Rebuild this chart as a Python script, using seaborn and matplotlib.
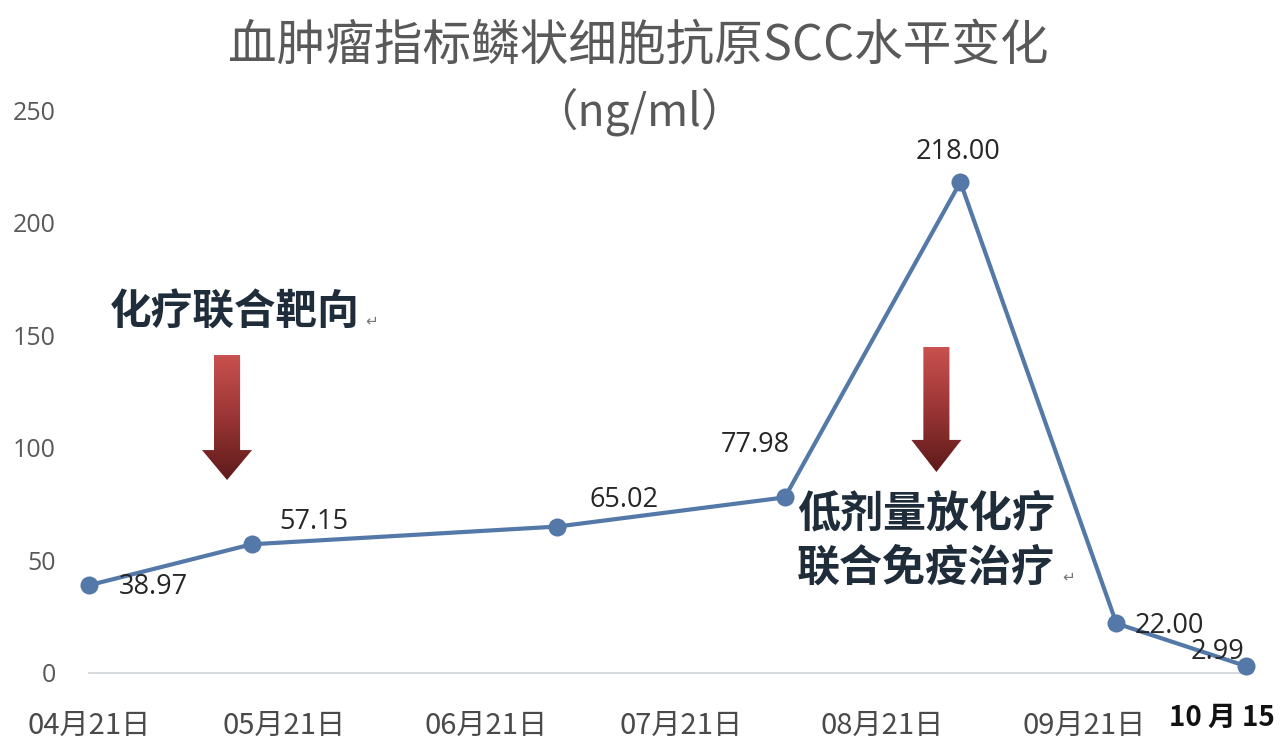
import numpy as np
import pandas as pd
import seaborn as sns
import matplotlib.pyplot as plt
import matplotlib.dates as mdates
from matplotlib.patches import Polygon
from matplotlib.colors import LinearSegmentedColormap

# SCC readings (ng/ml) at each test date
test_dates = ['2020-04-21', '2020-05-16', '2020-07-02', '2020-08-06',
              '2020-09-02', '2020-09-26', '2020-10-16']
scc_values = [38.97, 57.15, 65.02, 77.98, 218.00, 22.00, 2.99]
value_labels = ['38.97', '57.15', '65.02', '77.98', '218.00', '22.00', '2.99']

tick_dates = ['2020-04-21', '2020-05-21', '2020-06-21', '2020-07-21',
              '2020-08-21', '2020-09-21']
tick_labels = ['04月21日', '05月21日', '06月21日', '07月21日', '08月21日', '09月21日']

df = pd.DataFrame({'date': pd.to_datetime(test_dates), 'scc': scc_values})

sns.set_style('white')
plt.rcParams['font.family'] = ['Noto Sans CJK SC', 'DejaVu Sans']

fig = plt.figure(figsize=(12.86, 7.46), dpi=100)
ax = fig.add_axes([89 / 1286, 1 - 673 / 746, 1164 / 1286, 563 / 746])

line_color = '#5479a8'
sns.lineplot(data=df, x='date', y='scc', ax=ax, color=line_color, lw=3,
             marker='o', markersize=13, markeredgewidth=0, zorder=3)
ax.lines[0].set_clip_on(False)

# data labels: offsets in points
offsets = [(46, -1), (45, 16), (48, 19), (-21, 38), (-2, 22), (38, -2), (-21, 10)]
for d, v, lab, off in zip(df['date'], scc_values, value_labels, offsets):
    ax.annotate(lab, (d, v), xytext=off, textcoords='offset points',
                ha='center', va='center', fontsize=19.5, color='#262626',
                family=['Open Sans', 'DejaVu Sans'], zorder=4)

ax.set_ylim(0, 250)
ax.set_yticks([0, 50, 100, 150, 200, 250])
x0 = mdates.date2num(pd.Timestamp('2020-04-21'))
ax.set_xlim(x0, x0 + 179)
ax.set_xticks(pd.to_datetime(tick_dates))
ax.set_xticklabels(tick_labels)
ax.set_xlabel('')
ax.set_ylabel('')

ax.tick_params(axis='x', length=0, pad=27, labelsize=21, labelcolor='#4a4a4a')
ax.tick_params(axis='y', length=0, pad=24, labelsize=18, labelcolor='#595959')
for t in ax.get_yticklabels():
    t.set_family(['Open Sans', 'DejaVu Sans'])

for side in ['top', 'right', 'left']:
    ax.spines[side].set_visible(False)
ax.spines['bottom'].set_color('#d0d4d9')
ax.spines['bottom'].set_linewidth(1.2)
ax.grid(False)

# last date written separately
fig.text(1275 / 1286, 1 - 718 / 746, '10 月 15', ha='right', va='center',
         fontsize=20, fontweight='bold', color='#111111')

# title
fig.text(0.496, 0.937, '血肿瘤指标鳞状细胞抗原SCC水平变化', ha='center', va='center',
         fontsize=35, color='#595959')
fig.text(0.497, 0.85, '（ng/ml）', ha='center', va='center', fontsize=32, color='#595959')


def gradient_arrow(cx, top, base, tip, shaft_hw, head_hw):
    verts = [(cx - shaft_hw, top), (cx + shaft_hw, top), (cx + shaft_hw, base),
             (cx + head_hw, base), (cx, tip), (cx - head_hw, base), (cx - shaft_hw, base)]
    poly = Polygon(verts, closed=True, transform=ax.transAxes, facecolor='none',
                   edgecolor='none')
    ax.add_patch(poly)
    grad = np.linspace(0, 1, 256).reshape(-1, 1)
    cmap = LinearSegmentedColormap.from_list('arr', ['#c9514f', '#9a3535', '#5e1a1a'])
    im = ax.imshow(grad, cmap=cmap, aspect='auto', transform=ax.transAxes,
                   extent=[cx - head_hw, cx + head_hw, tip, top], zorder=2)
    im.set_clip_path(poly)


gradient_arrow(0.1186, 0.5648, 0.396, 0.3428, 0.0112, 0.0215)
gradient_arrow(0.728, 0.579, 0.414, 0.357, 0.0112, 0.0215)
ax.set_xlim(x0, x0 + 179)
ax.set_ylim(0, 250)

note_color = '#1f2d3a'
ax.text(0.018, 0.641, '化疗联合靶向', transform=ax.transAxes, ha='left', va='center',
        fontsize=30, fontweight='bold', color=note_color)
ax.text(0.237, 0.625, '↵', transform=ax.transAxes, ha='left', va='center',
        fontsize=11, color='#777777', family=['DejaVu Sans'])
ax.text(0.6085, 0.284, '低剂量放化疗', transform=ax.transAxes, ha='left', va='center',
        fontsize=31, fontweight='bold', color=note_color)
ax.text(0.6085, 0.1865, '联合免疫治疗', transform=ax.transAxes, ha='left', va='center',
        fontsize=31, fontweight='bold', color=note_color)
ax.text(0.836, 0.17, '↵', transform=ax.transAxes, ha='left', va='center',
        fontsize=11, color='#777777', family=['DejaVu Sans'])

fig.savefig('out.png', dpi=100, facecolor='white')
